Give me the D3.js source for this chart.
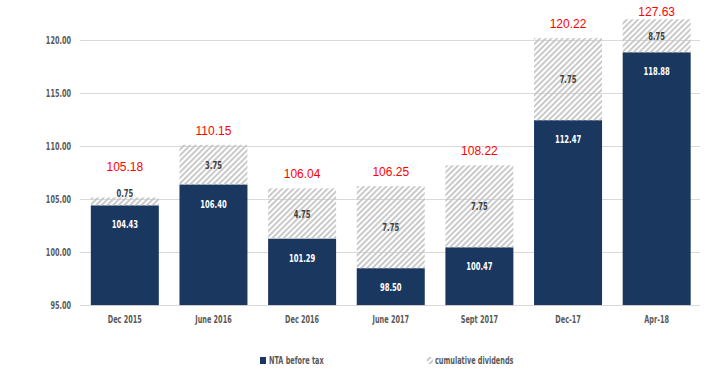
<!DOCTYPE html>
<html>
<head>
<meta charset="utf-8">
<script src="https://cdn.jsdelivr.net/npm/d3@7/dist/d3.min.js"></script>
<style>
  html, body { margin: 0; padding: 0; background: #fff; }
  svg { display: block; }
  .cond { font-family: "DejaVu Sans Condensed", "DejaVu Sans", sans-serif; font-weight: bold; }
</style>
</head>
<body>
<script>
// ---- data ----
const categories = ["Dec 2015", "June 2016", "Dec 2016", "June 2017", "Sept 2017", "Dec-17", "Apr-18"];
const ntaBeforeTax = [104.43, 106.40, 101.29, 98.50, 100.47, 112.47, 118.88];
const cumulativeDividends = [0.75, 3.75, 4.75, 7.75, 7.75, 7.75, 8.75];
const totals = [105.18, 110.15, 106.04, 106.25, 108.22, 120.22, 127.63];
const ntaLabels = ["104.43", "106.40", "101.29", "98.50", "100.47", "112.47", "118.88"];
const divLabels = ["0.75", "3.75", "4.75", "7.75", "7.75", "7.75", "8.75"];
const totalLabels = ["105.18", "110.15", "106.04", "106.25", "108.22", "120.22", "127.63"];
const yTicks = [95, 100, 105, 110, 115, 120];
const yDomain = [95, 122];
const legendLabels = ["NTA before tax", "cumulative dividends"];

// ---- setup ----
const W = 713, H = 371;
const navy = "#1a3760";
const grid = "#d9d9d9";
const textGray = "#595959";
const SX = 0.69;

const svg = d3.select("body").append("svg").attr("width", W).attr("height", H);
const defs = svg.append("defs");
const pat = defs.append("pattern")
  .attr("id", "hatch").attr("patternUnits", "userSpaceOnUse")
  .attr("width", 4).attr("height", 4)
  .attr("patternTransform", "rotate(45)");
pat.append("line").attr("x1", 1).attr("y1", 0).attr("x2", 1).attr("y2", 4)
  .attr("stroke", "#c4c4c4").attr("stroke-width", 1.8);

const y = d3.scaleLinear().domain(yDomain).range([305.3, 19.3]);
const x = d3.scaleBand().domain(categories).range([80.5, 701])
  .paddingInner(0.233).paddingOuter(0.1165);

defs.append("clipPath").attr("id", "plotclip").append("rect")
  .attr("x", 0).attr("y", y(yDomain[1])).attr("width", W).attr("height", y(yDomain[0]) - y(yDomain[1]));

// condensed text helper
function cond(g, txt, px, py, size, color, sx, anchor) {
  return g.append("text")
    .attr("class", "cond")
    .attr("transform", `translate(${px},${py}) scale(${sx},1)`)
    .attr("text-anchor", anchor || "middle")
    .attr("dominant-baseline", "central")
    .attr("font-size", size)
    .attr("fill", color)
    .text(txt);
}

// gridlines
const yAxis = d3.axisLeft(y).tickValues(yTicks).tickSize(0).tickFormat(d3.format(".2f"));
const gAxis = svg.append("g").attr("transform", "translate(80,0)");
gAxis.selectAll("line.grid").data(yTicks).enter().append("line")
  .attr("class", "grid")
  .attr("x1", 0).attr("x2", 620)
  .attr("y1", d => Math.round(y(d)) + 0.5).attr("y2", d => Math.round(y(d)) + 0.5)
  .attr("stroke", grid).attr("stroke-width", 1);
// tick labels (through axis generator for values, then restyled)
const axG = svg.append("g").attr("transform", "translate(80,0)").call(yAxis);
axG.select(".domain").remove();
axG.selectAll(".tick text").remove();
axG.selectAll(".tick").each(function(d) {
  cond(d3.select(this), d3.format(".2f")(d), -9, 0, 10.5, textGray, SX, "end");
});

// bars
const plot = svg.append("g").attr("clip-path", "url(#plotclip)");
categories.forEach((c, i) => {
  const x0 = x(c), bw = x.bandwidth();
  plot.append("rect")
    .attr("x", x0).attr("width", bw)
    .attr("y", y(ntaBeforeTax[i])).attr("height", y(yDomain[0]) - y(ntaBeforeTax[i]))
    .attr("fill", navy);
  plot.append("rect")
    .attr("x", x0).attr("width", bw)
    .attr("y", y(ntaBeforeTax[i] + cumulativeDividends[i]))
    .attr("height", y(ntaBeforeTax[i]) - y(ntaBeforeTax[i] + cumulativeDividends[i]))
    .attr("fill", "url(#hatch)");
});

// labels
const labels = svg.append("g");
categories.forEach((c, i) => {
  const cx = x(c) + x.bandwidth() / 2;
  const ntaTop = y(ntaBeforeTax[i]);
  const topV = y(ntaBeforeTax[i] + cumulativeDividends[i]);
  const visTop = Math.max(topV, y(yDomain[1]));
  // NTA label
  cond(labels, ntaLabels[i], cx, ntaTop + 19, 11, "#ffffff", SX);
  // dividend label
  let divY;
  if (ntaTop - visTop < 14) divY = visTop - 5;
  else divY = (ntaTop + visTop) / 2;
  cond(labels, divLabels[i], cx, divY, 11, "#404040", SX);
  // total label
  let tY = (ntaTop - visTop < 14) ? divY - 25 : visTop - 14;
  tY = Math.max(tY, 12);
  labels.append("text")
    .attr("x", cx).attr("y", tY)
    .attr("text-anchor", "middle").attr("dominant-baseline", "central")
    .attr("font-family", "Liberation Sans, Arial, sans-serif")
    .attr("font-size", 12).attr("fill", "#ff0000")
    .text(totalLabels[i]);
  // category label
  cond(labels, c, cx, 320, 10.5, textGray, SX);
});

// legend
const lg = svg.append("g");
lg.append("rect").attr("x", 260).attr("y", 357).attr("width", 6).attr("height", 7).attr("fill", navy);
cond(lg, legendLabels[0], 269, 360.5, 10.5, textGray, SX, "start");
lg.append("rect").attr("x", 427).attr("y", 357).attr("width", 6).attr("height", 7).attr("fill", "url(#hatch)");
cond(lg, legendLabels[1], 435, 360.5, 10.5, textGray, SX, "start");
</script>
</body>
</html>
